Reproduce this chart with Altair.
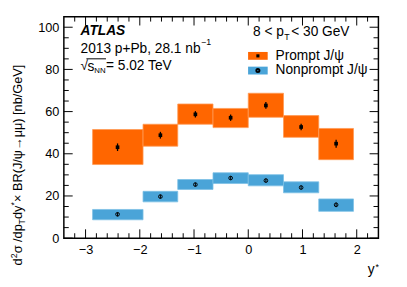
import altair as alt
import pandas as pd

# ---- data ----
bin_lo = [-2.87, -1.94, -1.30, -0.65, 0.00, 0.65, 1.30]
bin_hi = [-1.94, -1.30, -0.65, 0.00, 0.65, 1.30, 1.94]
ycenter = [-2.41, -1.62, -0.975, -0.325, 0.325, 0.975, 1.62]

prompt_val = [43.1, 48.8, 58.7, 57.1, 62.9, 52.7, 44.8]
prompt_stat = [1.8, 1.6, 1.5, 1.5, 1.6, 1.5, 1.9]
prompt_sys_lo = [34.9, 43.6, 54.0, 52.4, 57.3, 47.8, 37.2]
prompt_sys_hi = [51.5, 54.0, 63.6, 61.5, 68.7, 58.1, 52.0]

nonprompt_val = [11.3, 19.7, 25.4, 28.5, 27.3, 24.0, 15.8]
nonprompt_stat = [0.9, 0.9, 0.9, 0.9, 0.9, 0.9, 1.1]
nonprompt_sys_lo = [8.7, 17.2, 23.1, 25.9, 24.8, 21.5, 12.7]
nonprompt_sys_hi = [13.6, 22.2, 27.8, 31.0, 30.1, 26.7, 18.6]

x_major = [-3, -2, -1, 0, 1, 2]
y_major = [0, 20, 40, 60, 80, 100]

W, H = 321, 226
XDOM = [-3.4, 2.4]
YDOM = [0, 105]
ORANGE = "#ff6600"
BLUE = "#4aa4d8"
FONT = "Liberation Sans"

df = pd.DataFrame({
    "lo": bin_lo, "hi": bin_hi, "yc": ycenter,
    "pv": prompt_val, "pst": prompt_stat, "plo": prompt_sys_lo, "phi": prompt_sys_hi,
    "nv": nonprompt_val, "nst": nonprompt_stat, "nlo": nonprompt_sys_lo, "nhi": nonprompt_sys_hi,
})
df["pe_lo"] = df.pv - df.pst
df["pe_hi"] = df.pv + df.pst
df["ne_lo"] = df.nv - df.nst
df["ne_hi"] = df.nv + df.nst

xs = alt.Scale(domain=XDOM, nice=False, zero=False)
ys = alt.Scale(domain=YDOM, nice=False, zero=False)

xax = alt.Axis(values=x_major, format="d", ticks=False, domain=False, grid=False, labelFontSize=13,
               labelFont=FONT, labelColor="black", labelPadding=6, title=None)
yax = alt.Axis(values=y_major, format="d", ticks=False, domain=False, grid=False, labelFontSize=13,
               labelFont=FONT, labelColor="black", labelPadding=5, title=None)

base = alt.Chart(df)

p_box = base.mark_rect(color=ORANGE, stroke="#ff9a55", strokeWidth=0.8).encode(
    x=alt.X("lo:Q", scale=xs, axis=xax), x2="hi:Q",
    y=alt.Y("plo:Q", scale=ys, axis=yax), y2="phi:Q")
n_box = base.mark_rect(color=BLUE, stroke="#7cc0e6", strokeWidth=0.8).encode(
    x=alt.X("lo:Q", scale=xs), x2="hi:Q",
    y=alt.Y("nlo:Q", scale=ys), y2="nhi:Q")
p_err = base.mark_rule(color="black", strokeWidth=1.3).encode(
    x=alt.X("yc:Q", scale=xs), y=alt.Y("pe_lo:Q", scale=ys), y2="pe_hi:Q")
n_err = base.mark_rule(color="black", strokeWidth=1.0).encode(
    x=alt.X("yc:Q", scale=xs), y=alt.Y("ne_lo:Q", scale=ys), y2="ne_hi:Q")
p_pt = base.mark_point(shape="square", filled=True, color="black", size=14, opacity=1).encode(
    x=alt.X("yc:Q", scale=xs), y=alt.Y("pv:Q", scale=ys))
n_pt = base.mark_point(shape="circle", filled=False, color="black", size=14, strokeWidth=1, opacity=1).encode(
    x=alt.X("yc:Q", scale=xs), y=alt.Y("nv:Q", scale=ys))

# ---- inward ticks on all four sides ----
x_minor = [round(-3.4 + 0.2 * i, 1) for i in range(30)]
x_minor = [v for v in x_minor if v not in x_major and XDOM[0] < v < XDOM[1]]
y_minor = [5 * i for i in range(1, 21) if (5 * i) % 20 != 0]

def xticks(vals, length):
    d = pd.DataFrame({"v": vals})
    b = alt.Chart(d).mark_rule(color="black", strokeWidth=1)
    return (b.encode(x=alt.X("v:Q", scale=xs), y=alt.value(H), y2=alt.value(H - length))
            + b.encode(x=alt.X("v:Q", scale=xs), y=alt.value(0), y2=alt.value(length)))

def yticks(vals, length):
    d = pd.DataFrame({"v": vals})
    b = alt.Chart(d).mark_rule(color="black", strokeWidth=1)
    return (b.encode(y=alt.Y("v:Q", scale=ys), x=alt.value(0), x2=alt.value(length))
            + b.encode(y=alt.Y("v:Q", scale=ys), x=alt.value(W), x2=alt.value(W - length)))

ticks = xticks(x_major, 9) + xticks(x_minor, 5) + yticks(y_major, 9) + yticks(y_minor, 5)

# ---- texts ----
def txt(s, x, y, size=14, **kw):
    return alt.Chart(pd.DataFrame({"t": [s]})).mark_text(
        font=FONT, fontSize=size, color="black", align=kw.pop("align", "left"),
        baseline=kw.pop("baseline", "middle"), **kw).encode(
        text="t:N", x=alt.value(x), y=alt.value(y))

texts = [
    txt("ATLAS", 17, 15, 14, fontWeight="bold", fontStyle="italic"),
    txt("2013 p+Pb, 28.1 nb", 17, 33),
    txt("\u22121", 140, 26, 9),
    txt("\u221a", 17, 50, 14),
    txt("s", 24, 51),
    txt("NN", 31, 55, 8),
    txt("= 5.02 TeV", 43, 50),
    txt("8 < p", 193, 16),
    txt("T", 225, 21, 9),
    txt("< 30 GeV", 232, 16),
    txt("Prompt J/\u03c8", 216, 40),
    txt("Nonprompt J/\u03c8", 216, 55),
    txt("y", 310, 259, 14),
    txt("*", 318, 255, 9),
    # rotated y title
    txt("d", -47, 254, 13, angle=270),
    txt("2", -51, 246.5, 9, angle=270),
    txt("\u03c3 /dp", -47, 241.5, 13, angle=270),
    txt("T", -43, 212, 9, angle=270),
    txt("dy", -47, 206.5, 13, angle=270),
    txt("*", -51, 192.8, 9, angle=270),
    txt(" \u00d7 BR(J/\u03c8\u2192\u03bc\u03bc)  [nb/GeV]", -47, 189, 13, angle=270),
]

overline = alt.Chart(pd.DataFrame({"a": [0]})).mark_rule(color="black", strokeWidth=1).encode(
    x=alt.value(23), x2=alt.value(43), y=alt.value(43))

# legend
leg = pd.DataFrame({"a": [0]})
leg_p = alt.Chart(leg).mark_rect(color=ORANGE).encode(
    x=alt.value(188), x2=alt.value(208), y=alt.value(36), y2=alt.value(44))
leg_n = alt.Chart(leg).mark_rect(color=BLUE).encode(
    x=alt.value(188), x2=alt.value(208), y=alt.value(51), y2=alt.value(59))
leg_pp = alt.Chart(leg).mark_point(shape="square", filled=True, color="black", size=10, opacity=1).encode(
    x=alt.value(198), y=alt.value(40))
leg_np = alt.Chart(leg).mark_point(shape="circle", filled=False, color="black", size=10, opacity=1).encode(
    x=alt.value(198), y=alt.value(55))

chart = alt.layer(
    p_box, n_box, p_err, n_err, p_pt, n_pt, ticks, overline,
    leg_p, leg_n, leg_pp, leg_np, *texts
).properties(
    width=W, height=H,
    autosize=alt.AutoSizeParams(type="none"),
    padding={"left": 57, "top": 6, "right": 21, "bottom": 47},
    background="white",
).configure_view(stroke="black", strokeWidth=1.5)

chart.save("out.html", embed_options={"renderer": "svg", "actions": False})
